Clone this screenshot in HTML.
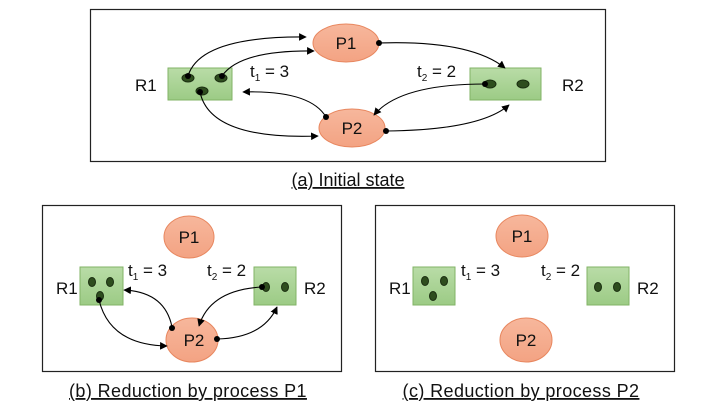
<!DOCTYPE html>
<html><head><style>
body{margin:0;background:#fff;}
svg{display:block;font-family:"Liberation Sans",sans-serif;}
</style></head><body>
<svg width="713" height="409" viewBox="0 0 713 409">
<defs>
<marker id="a" viewBox="0 0 10 10" refX="9" refY="5" markerWidth="7" markerHeight="7" orient="auto"><path d="M0,0 L10,5 L0,10 z" fill="#000"/></marker>
<linearGradient id="g" x1="0" y1="0" x2="0" y2="1"><stop offset="0" stop-color="#b9dca7"/><stop offset="1" stop-color="#9ccb85"/></linearGradient>
<linearGradient id="o" x1="0" y1="0" x2="0" y2="1"><stop offset="0" stop-color="#f7b79c"/><stop offset="1" stop-color="#f3a383"/></linearGradient>
</defs>
<g fill="none" stroke="#222" stroke-width="1.2">
<rect x="90.5" y="9.5" width="515" height="152"/>
<rect x="42.5" y="205.5" width="299" height="166"/>
<rect x="375.5" y="205.5" width="299" height="166"/>
</g>
<!-- (a) -->
<rect x="168" y="68" width="64" height="32" fill="url(#g)" stroke="#82b366"/>
<rect x="470" y="68" width="71" height="32" fill="url(#g)" stroke="#82b366"/>
<ellipse cx="346" cy="43" rx="33" ry="19" fill="url(#o)" stroke="#e8875f"/>
<ellipse cx="352" cy="128" rx="33" ry="19" fill="url(#o)" stroke="#e8875f"/>
<g fill="#2e4d1e" stroke="#1a2e10"><ellipse cx="188" cy="78" rx="6" ry="4"/><ellipse cx="221" cy="78" rx="6" ry="4"/><ellipse cx="202" cy="91" rx="6" ry="4"/><ellipse cx="490" cy="84" rx="6" ry="4"/><ellipse cx="523" cy="84" rx="6" ry="4"/></g>
<g fill="none" stroke="#000" stroke-width="1.1" marker-end="url(#a)">
<path d="M188,76 Q200,36 306,37"/>
<path d="M222,76 Q240,50 314,51"/>
<path d="M379,43 Q470,40 505,68"/>
<path d="M485,84 Q400,84 374,115"/>
<path d="M386,131 Q480,130 509,105"/>
<path d="M326,117 Q310,90 243,92"/>
<path d="M200,92 Q210,140 318,136"/>
</g>
<g fill="#000"><circle cx="188" cy="76" r="3"/><circle cx="222" cy="76" r="3"/><circle cx="379" cy="43" r="3"/><circle cx="485" cy="84" r="3"/><circle cx="386" cy="131" r="3"/><circle cx="326" cy="117" r="3"/><circle cx="200" cy="92" r="3"/></g>
<g font-size="17" fill="#111">
<text x="346" y="49" text-anchor="middle">P1</text>
<text x="352" y="134" text-anchor="middle">P2</text>
<text x="135" y="91">R1</text>
<text x="562" y="91">R2</text>
<text x="250" y="77">t<tspan font-size="10" dy="4">1</tspan><tspan dy="-4"> = 3</tspan></text>
<text x="417" y="77">t<tspan font-size="10" dy="4">2</tspan><tspan dy="-4"> = 2</tspan></text>
<text x="348" y="186" text-anchor="middle" text-decoration="underline" font-size="18">(a) Initial state</text>
</g>
<!-- (b) -->
<rect x="80" y="267" width="43" height="38" fill="url(#g)" stroke="#82b366"/>
<rect x="254" y="267" width="42" height="38" fill="url(#g)" stroke="#82b366"/>
<ellipse cx="189" cy="237" rx="25" ry="21" fill="url(#o)" stroke="#e8875f"/>
<ellipse cx="192" cy="340" rx="26" ry="22" fill="url(#o)" stroke="#e8875f"/>
<g fill="#2e4d1e" stroke="#1a2e10"><ellipse cx="92" cy="282" rx="3.5" ry="4.5"/><ellipse cx="110" cy="282" rx="3.5" ry="4.5"/><ellipse cx="100" cy="296" rx="3.5" ry="4.5"/><ellipse cx="266" cy="287" rx="3.5" ry="4.5"/><ellipse cx="285" cy="287" rx="3.5" ry="4.5"/></g>
<g fill="none" stroke="#000" stroke-width="1.1" marker-end="url(#a)">
<path d="M99,300 Q110,345 167,346"/>
<path d="M172,327 Q165,292 124,290"/>
<path d="M262,287 Q210,290 199,326"/>
<path d="M217,339 Q263,338 277,307"/>
</g>
<g fill="#000"><circle cx="99" cy="300" r="3"/><circle cx="172" cy="328" r="3"/><circle cx="262" cy="287" r="3"/><circle cx="217" cy="339" r="3"/></g>
<g font-size="17" fill="#111">
<text x="189" y="243" text-anchor="middle">P1</text>
<text x="194" y="346" text-anchor="middle">P2</text>
<text x="56" y="294">R1</text>
<text x="304" y="294">R2</text>
<text x="128" y="276">t<tspan font-size="10" dy="4">1</tspan><tspan dy="-4"> = 3</tspan></text>
<text x="207" y="276">t<tspan font-size="10" dy="4">2</tspan><tspan dy="-4"> = 2</tspan></text>
<text x="188" y="397" text-anchor="middle" text-decoration="underline" font-size="18" letter-spacing="0.4">(b) Reduction by process P1</text>
</g>
<!-- (c) -->
<rect x="413" y="267" width="42" height="38" fill="url(#g)" stroke="#82b366"/>
<rect x="587" y="267" width="42" height="38" fill="url(#g)" stroke="#82b366"/>
<ellipse cx="522" cy="236" rx="26" ry="21" fill="url(#o)" stroke="#e8875f"/>
<ellipse cx="526" cy="340" rx="26" ry="22" fill="url(#o)" stroke="#e8875f"/>
<g fill="#2e4d1e" stroke="#1a2e10"><ellipse cx="425" cy="281" rx="3.5" ry="4.5"/><ellipse cx="444" cy="281" rx="3.5" ry="4.5"/><ellipse cx="433" cy="296" rx="3.5" ry="4.5"/><ellipse cx="598" cy="287" rx="3.5" ry="4.5"/><ellipse cx="617" cy="287" rx="3.5" ry="4.5"/></g>
<g font-size="17" fill="#111">
<text x="522" y="242" text-anchor="middle">P1</text>
<text x="526" y="346" text-anchor="middle">P2</text>
<text x="389" y="294">R1</text>
<text x="637" y="294">R2</text>
<text x="461" y="276">t<tspan font-size="10" dy="4">1</tspan><tspan dy="-4"> = 3</tspan></text>
<text x="541" y="276">t<tspan font-size="10" dy="4">2</tspan><tspan dy="-4"> = 2</tspan></text>
<text x="521" y="397" text-anchor="middle" text-decoration="underline" font-size="18" letter-spacing="0.4">(c) Reduction by process P2</text>
</g>
</svg>
</body></html>
